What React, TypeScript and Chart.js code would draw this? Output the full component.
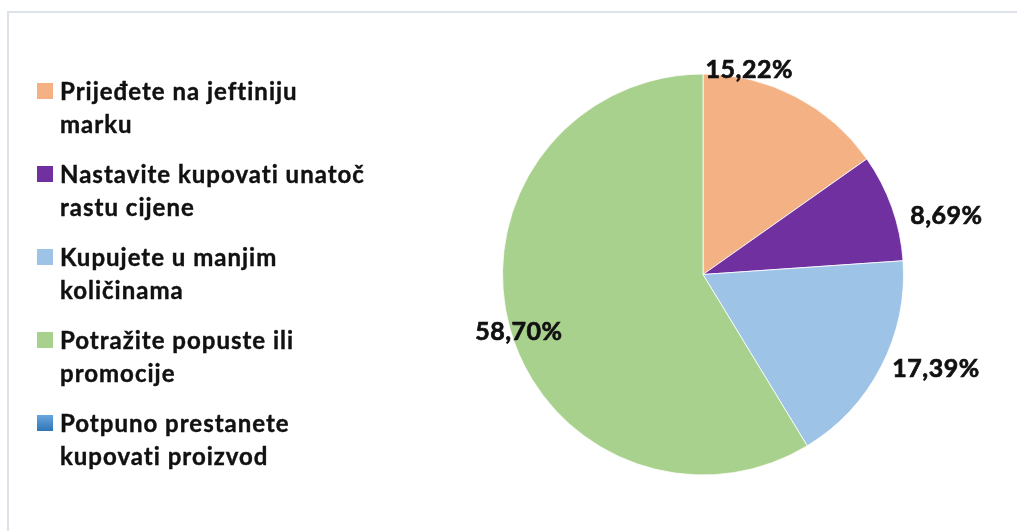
import React, { useEffect, useRef } from "react";
import { Chart, registerables } from "chart.js";

Chart.register(...registerables);

// ---- data ----
const categories: string[][] = [
  ["Prijeđete na jeftiniju", "marku"],
  ["Nastavite kupovati unatoč", "rastu cijene"],
  ["Kupujete u manjim", "količinama"],
  ["Potražite popuste ili", "promocije"],
  ["Potpuno prestanete", "kupovati proizvod"],
];
const shares: number[] = [15.22, 8.69, 17.39, 58.7, 0];
const sliceColors: string[] = ["#F4B183", "#7030A0", "#9DC3E6", "#A9D18E", "#5B9BD5"];
const legendSwatches: string[] = [
  "#F4B183",
  "#7030A0",
  "#9DC3E6",
  "#A9D18E",
  "linear-gradient(180deg, #6AA6DE 0%, #2E75B6 100%)",
];

const FONT = "Lato, 'Open Sans', 'DejaVu Sans', sans-serif";

const fmt = (v: number) => v.toFixed(2).replace(".", ",") + "%";

const sliceLabels = {
  id: "sliceLabels",
  afterDatasetsDraw(chart: any, _args: any, opts: any) {
    const ctx = chart.ctx;
    const meta = chart.getDatasetMeta(0);
    const values = chart.data.datasets[0].data as number[];
    ctx.save();
    ctx.font = opts.font;
    ctx.fillStyle = opts.color;
    ctx.strokeStyle = opts.color;
    ctx.lineWidth = 0.7;
    (ctx as any).letterSpacing = "0.5px";
    ctx.textAlign = "center";
    ctx.textBaseline = "alphabetic";
    meta.data.forEach((arc: any, i: number) => {
      const v = values[i];
      if (!v) return;
      const p = arc.getProps(["x", "y", "startAngle", "endAngle", "outerRadius"], true);
      const mid = (p.startAngle + p.endAngle) / 2;
      const ex = p.x + Math.cos(mid) * p.outerRadius;
      const ey = p.y + Math.sin(mid) * p.outerRadius;
      const off = (opts.offsets && opts.offsets[i]) || [0, 0];
      ctx.fillText(fmt(v), ex + off[0], ey + off[1]);
      ctx.strokeText(fmt(v), ex + off[0], ey + off[1]);
    });
    ctx.restore();
  },
};

export default function App() {
  const ref = useRef<HTMLCanvasElement | null>(null);

  useEffect(() => {
    if (!ref.current) return;
    const chart = new Chart(ref.current, {
      type: "pie",
      data: {
        labels: categories.map((c) => c.join(" ")),
        datasets: [
          {
            data: shares,
            backgroundColor: sliceColors,
            borderColor: "rgba(255,255,255,0.8)",
            borderWidth: 1,
          },
        ],
      },
      options: {
        responsive: false,
        animation: false,
        layout: { padding: { left: 502, top: 73.5, right: 113, bottom: 55.5 } },
        plugins: {
          legend: { display: false },
          tooltip: { enabled: false },
          sliceLabels: {
            font: `bold 25px ${FONT}`,
            color: "#111111",
            offsets: [
              [-46, -18.5],
              [54.5, 16.7],
              [55, 10],
              [9, 11],
              [0, 0],
            ],
          },
        } as any,
      },
      plugins: [sliceLabels],
    });
    return () => chart.destroy();
  }, []);

  return (
    <div
      style={{
        position: "absolute",
        left: 0,
        top: 0,
        width: 1017,
        height: 531,
        overflow: "hidden",
        background: "#ffffff",
      }}
    >
      <div
        style={{
          position: "absolute",
          left: 7,
          top: 11,
          width: 1100,
          height: 600,
          borderTop: "2px solid #DEE3E9",
          borderLeft: "2px solid #DEE3E9",
        }}
      />
      <canvas
        ref={ref}
        width={1017}
        height={531}
        style={{ position: "absolute", left: 0, top: 0, width: 1017, height: 531 }}
      />
      {categories.map((lines, i) => (
        <div
          key={i}
          style={{
            position: "absolute",
            left: 0,
            top: 74 + i * 83,
            width: 400,
          }}
        >
          <div
            style={{
              position: "absolute",
              left: 37,
              top: 9,
              width: 16,
              height: 16,
              background: legendSwatches[i],
            }}
          />
          <div
            style={{
              position: "absolute",
              left: 60,
              top: 0,
              font: `bold 24px/33px ${FONT}`,
              letterSpacing: "1px",
              color: "#111111",
              whiteSpace: "nowrap",
              WebkitTextStroke: "0.4px #111111",
            }}
          >
            {lines.map((l, j) => (
              <div key={j}>{l}</div>
            ))}
          </div>
        </div>
      ))}
    </div>
  );
}
